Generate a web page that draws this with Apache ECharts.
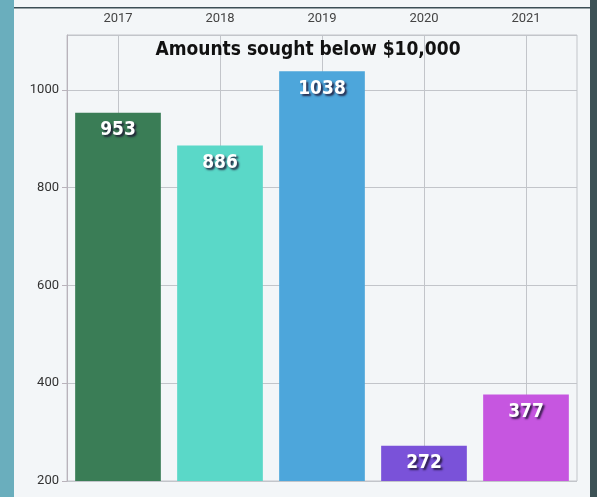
<!DOCTYPE html>
<html>
<head>
<meta charset="utf-8">
<script src="https://cdn.jsdelivr.net/npm/echarts@6/dist/echarts.min.js"></script>
<style>
  html, body { margin: 0; padding: 0; }
  #chart { width: 597px; height: 497px; }
</style>
</head>
<body>
<div id="chart"></div>
<script>
var years = ["2017", "2018", "2019", "2020", "2021"];
var amounts = [953, 886, 1038, 272, 377];
var barColors = ["#3a7d56", "#5ad8c8", "#4da6db", "#7a52d9", "#c656e0"];
var yTicks = [200, 400, 600, 800, 1000];

var narrowFont = "'DejaVu Sans Condensed', 'Roboto Condensed', sans-serif";

var chart = echarts.init(document.getElementById("chart"));

chart.setOption({
  backgroundColor: "#f3f6f8",
  animation: false,
  graphic: [
    // left teal strip
    { type: "rect", left: 0, top: 0, shape: { width: 14, height: 497 }, style: { fill: "#6aaebd" }, z: -10 },
    // right dark strip
    { type: "rect", right: 0, top: 0, shape: { width: 7, height: 497 }, style: { fill: "#3d5256" }, z: -10 },
    // top divider line
    { type: "rect", left: 14, top: 7, shape: { width: 577, height: 1.5 }, style: { fill: "#3c4e55" }, z: -10 },
  ],
  title: {
    text: "Amounts sought below $10,000",
    left: 303,
    top: 36,
    textAlign: "center",
    textStyle: {
      fontFamily: narrowFont,
      fontWeight: "bold",
      fontSize: 19,
      color: "#111",
    },
  },
  grid: {
    left: 67,
    right: 20,
    top: 35,
    bottom: 16,
    show: true,
    borderColor: "#c2c5ca",
    borderWidth: 1,
    backgroundColor: "transparent",
  },
  xAxis: {
    type: "category",
    position: "top",
    data: years,
    boundaryGap: true,
    axisLine: { show: false },
    axisTick: { show: false },
    axisLabel: {
      color: "#444",
      fontFamily: "Roboto",
      fontSize: 13,
      margin: 10,
    },
    splitLine: {
      show: true,
      alignWithLabel: true,
      lineStyle: { color: "#c2c5ca", width: 1 },
    },
  },
  yAxis: {
    type: "value",
    min: 200,
    max: 1112,
    interval: 200,
    axisLine: { show: true, lineStyle: { color: "#b9b3bb" } },
    axisTick: { show: true, length: 5, lineStyle: { color: "#b9b3bb" } },
    axisLabel: {
      color: "#333",
      fontFamily: "Roboto",
      fontSize: 13,
      margin: 8,
      showMaxLabel: false,
      formatter: function (v) {
        return yTicks.indexOf(v) >= 0 ? String(v) : "";
      },
    },
    splitLine: { show: true, lineStyle: { color: "#c2c5ca", width: 1 } },
  },
  series: [
    {
      type: "bar",
      barWidth: "84%",
      data: amounts.map(function (v, i) {
        return { value: v, itemStyle: { color: barColors[i] } };
      }),
      label: {
        show: true,
        position: "insideTop",
        distance: 8,
        color: "#fff",
        fontFamily: narrowFont,
        fontWeight: "bold",
        fontSize: 19,
        textShadowColor: "rgba(30,20,50,0.85)",
        textShadowBlur: 2,
        textShadowOffsetX: 2,
        textShadowOffsetY: 2,
      },
    },
  ],
});
</script>
</body>
</html>
